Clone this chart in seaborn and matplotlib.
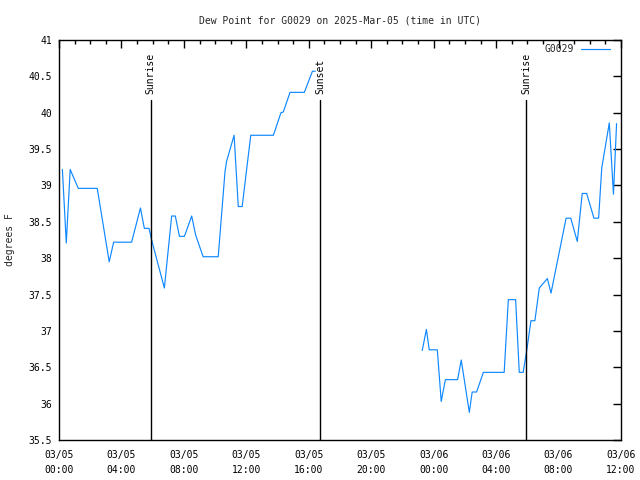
import matplotlib
matplotlib.use("Agg")
import matplotlib.pyplot as plt
import matplotlib.dates as mdates
import seaborn as sns
import pandas as pd

# ---- data ----
seg1_times = ["2025-03-05 00:13", "2025-03-05 00:28", "2025-03-05 00:43", "2025-03-05 01:14",
              "2025-03-05 02:27", "2025-03-05 03:13", "2025-03-05 03:30", "2025-03-05 04:39",
              "2025-03-05 05:13", "2025-03-05 05:28", "2025-03-05 05:46", "2025-03-05 05:56",
              "2025-03-05 06:45", "2025-03-05 07:13", "2025-03-05 07:27", "2025-03-05 07:43",
              "2025-03-05 08:02", "2025-03-05 08:30", "2025-03-05 08:45", "2025-03-05 09:14",
              "2025-03-05 10:12", "2025-03-05 10:38", "2025-03-05 10:44", "2025-03-05 11:13",
              "2025-03-05 11:29", "2025-03-05 11:44", "2025-03-05 12:17", "2025-03-05 13:44",
              "2025-03-05 14:13", "2025-03-05 14:22", "2025-03-05 14:48", "2025-03-05 15:43",
              "2025-03-05 16:14", "2025-03-05 16:25"]
seg1_values = [39.22, 38.21, 39.22, 38.96,
               38.96, 37.95, 38.22, 38.22,
               38.69, 38.41, 38.41, 38.25,
               37.59, 38.58, 38.58, 38.30,
               38.30, 38.58, 38.32, 38.02,
               38.02, 39.19, 39.33, 39.69,
               38.71, 38.71, 39.69, 39.69,
               40.00, 40.01, 40.28, 40.28,
               40.57, 40.57]

seg2_times = ["2025-03-05 23:16", "2025-03-05 23:32", "2025-03-05 23:43", "2025-03-06 00:14",
              "2025-03-06 00:29", "2025-03-06 00:45", "2025-03-06 01:32", "2025-03-06 01:46",
              "2025-03-06 02:17", "2025-03-06 02:28", "2025-03-06 02:45", "2025-03-06 03:11",
              "2025-03-06 04:31", "2025-03-06 04:47", "2025-03-06 05:15", "2025-03-06 05:29",
              "2025-03-06 05:44", "2025-03-06 05:58", "2025-03-06 06:14", "2025-03-06 06:29",
              "2025-03-06 06:46", "2025-03-06 07:17", "2025-03-06 07:31", "2025-03-06 08:29",
              "2025-03-06 08:47", "2025-03-06 09:12", "2025-03-06 09:31", "2025-03-06 09:48",
              "2025-03-06 10:16", "2025-03-06 10:34", "2025-03-06 10:46", "2025-03-06 11:15",
              "2025-03-06 11:31", "2025-03-06 11:43"]
seg2_values = [36.73, 37.02, 36.74, 36.74,
               36.03, 36.33, 36.33, 36.60,
               35.88, 36.16, 36.16, 36.43,
               36.43, 37.43, 37.43, 36.43,
               36.43, 36.74, 37.14, 37.14,
               37.59, 37.72, 37.52, 38.55,
               38.55, 38.23, 38.89, 38.89,
               38.55, 38.55, 39.24, 39.86,
               38.88, 39.85]

sun_times = ["2025-03-05 05:53", "2025-03-05 16:43", "2025-03-06 05:55"]
sun_labels = ["Sunrise", "Sunset", "Sunrise"]

y_ticks = [35.5, 36, 36.5, 37, 37.5, 38, 38.5, 39, 39.5, 40, 40.5, 41]
series_name = "G0029"
title = "Dew Point for G0029 on 2025-Mar-05 (time in UTC)"

# ---- style ----
sns.set_theme(style="white")
plt.rcParams["font.family"] = ["DejaVu Sans Mono", "DejaVu Sans"]
plt.rcParams["font.size"] = 7

df1 = pd.DataFrame({"time": pd.to_datetime(seg1_times), "value": seg1_values})
df2 = pd.DataFrame({"time": pd.to_datetime(seg2_times), "value": seg2_values})

fig = plt.figure(figsize=(6.4, 4.8), dpi=100)
ax = fig.add_axes([59 / 640, 40 / 480, 562 / 640, 400 / 480])

color = "#0f88ff"
sns.lineplot(data=df1, x="time", y="value", ax=ax, color=color, lw=0.85, label=series_name)
sns.lineplot(data=df2, x="time", y="value", ax=ax, color=color, lw=0.85)

ax.set_xlim(pd.Timestamp("2025-03-05 00:00"), pd.Timestamp("2025-03-06 12:00"))
ax.set_ylim(35.5, 41)

for t, lab in zip(sun_times, sun_labels):
    ts = pd.Timestamp(t)
    ax.axvline(ts, ymin=0, ymax=0.85, color="black", lw=1.0)
    ax.text(ts, 40.26, lab, rotation=90, ha="center", va="bottom", fontsize=7, color="black")

ax.xaxis.set_major_locator(mdates.HourLocator(byhour=range(0, 24, 4)))
ax.xaxis.set_minor_locator(mdates.HourLocator())
ax.xaxis.set_major_formatter(mdates.DateFormatter("%m/%d\n%H:%M"))
ax.set_yticks(y_ticks)
ax.set_yticklabels(["%g" % v for v in y_ticks])

ax.tick_params(axis="both", which="both", direction="in", top=True, right=True,
               colors="black", labelsize=7)
ax.tick_params(axis="both", which="major", length=6, width=1)
ax.tick_params(axis="x", which="minor", length=3, width=1)
ax.tick_params(axis="x", which="major", pad=7)
ax.tick_params(axis="y", which="major", pad=5)
for lbl in ax.get_xticklabels():
    lbl.set_linespacing(1.6)

for s in ax.spines.values():
    s.set_color("black")
    s.set_linewidth(1.0)
    s.set_visible(True)

ax.set_xlabel("")
ax.set_ylabel("degrees F", fontsize=7, labelpad=10)
ax.set_title(title, fontsize=7, pad=12)

leg = ax.legend(loc="upper right", bbox_to_anchor=(1 - 11 / 562, 1 - 4 / 400),
                markerfirst=False, frameon=False, handlelength=3.0, borderaxespad=0,
                borderpad=0, fontsize=7, handletextpad=0.7)

fig.savefig("out.png", dpi=100)
